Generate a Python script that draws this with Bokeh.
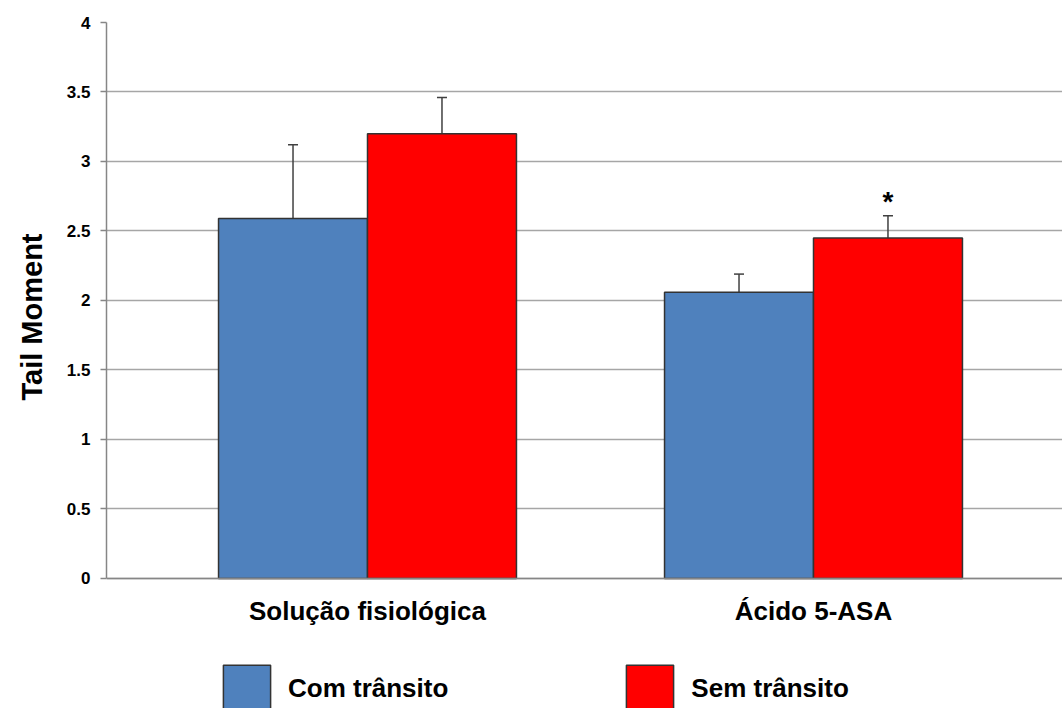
from bokeh.plotting import figure
from bokeh.models import (ColumnDataSource, Range1d, FixedTicker, Whisker, TeeHead,
                          Legend, LegendItem, Title)
from bokeh.core.properties import value
from bokeh.embed import file_html
from bokeh.resources import INLINE

# ---- data ----
categories = ["Solução fisiológica", "Ácido 5-ASA"]
series_names = ["Com trânsito", "Sem trânsito"]
com_values = [2.59, 2.06]
com_errors = [0.53, 0.13]
sem_values = [3.20, 2.45]
sem_errors = [0.26, 0.16]
significance = ["", "*"]
y_ticks = [0, 0.5, 1, 1.5, 2, 2.5, 3, 3.5, 4]
y_tick_labels = ["0", "0.5", "1", "1.5", "2", "2.5", "3", "3.5", "4"]
y_title = "Tail Moment"

colors = ["#4F81BD", "#FF0000"]
bar_w = 0.334
FONT = "Liberation Sans"

xs = list(range(len(categories)))
com_src = ColumnDataSource(dict(
    x=[x - bar_w / 2 for x in xs], top=com_values,
    upper=[v + e for v, e in zip(com_values, com_errors)]))
sem_src = ColumnDataSource(dict(
    x=[x + bar_w / 2 for x in xs], top=sem_values,
    upper=[v + e for v, e in zip(sem_values, sem_errors)],
    star=significance))

# frame reaches the bottom of the canvas; value 0 sits 130 px above it
p = figure(width=1062, height=708, output_backend="svg", toolbar_location=None,
           x_range=Range1d(-0.5852, 1.5583), y_range=Range1d(-0.9353, 4),
           min_border_left=106, min_border_right=0, min_border_top=22,
           min_border_bottom=0)
p.outline_line_color = None
p.background_fill_color = "white"
p.border_fill_color = "white"

r_com = p.vbar(x="x", top="top", width=bar_w, bottom=0, source=com_src,
               fill_color=colors[0], line_color="#333333", line_width=1.5)
r_sem = p.vbar(x="x", top="top", width=bar_w, bottom=0, source=sem_src,
               fill_color=colors[1], line_color="#333333", line_width=1.5)

for src in (com_src, sem_src):
    w = Whisker(source=src, base="x", lower="top", upper="upper",
                line_color="#404040", line_width=1.5, lower_head=None,
                upper_head=TeeHead(size=10, line_color="#404040", line_width=1.5))
    p.add_layout(w)

p.text(x="x", y="upper", text="star", source=sem_src, text_font=value(FONT),
       text_font_style="bold", text_font_size="28px", text_align="center",
       text_baseline="middle", y_offset=-14, text_color="black")

# axes
p.xgrid.visible = False
p.ygrid.grid_line_color = "#A6A6A6"
p.ygrid.grid_line_width = 1.5
p.ygrid.ticker = FixedTicker(ticks=y_ticks)

p.yaxis.bounds = (0, 4)
p.yaxis.ticker = FixedTicker(ticks=y_ticks)
p.yaxis.major_label_overrides = {t: l for t, l in zip(y_ticks, y_tick_labels)}
p.yaxis.minor_tick_line_color = None
p.yaxis.major_tick_out = 6
p.yaxis.major_tick_in = 0
p.yaxis.major_tick_line_color = "#868686"
p.yaxis.major_tick_line_width = 1.5
p.yaxis.axis_line_color = "#868686"
p.yaxis.axis_line_width = 1.5
p.yaxis.major_label_text_font = FONT
p.yaxis.major_label_text_font_style = "bold"
p.yaxis.major_label_text_font_size = "17px"
p.yaxis.major_label_text_color = "black"
p.yaxis.major_label_standoff = 10

# y-axis title, placed along the 0..4 span of the axis
p.add_layout(Title(text=y_title, align="left", offset=308, standoff=28,
                   vertical_align="top",
                   text_font=FONT, text_font_style="bold",
                   text_font_size="29px", text_color="black"), "left")

p.xaxis.fixed_location = 0
p.xaxis.ticker = FixedTicker(ticks=xs)
p.xaxis.major_label_overrides = {x: c for x, c in zip(xs, categories)}
p.xaxis.minor_tick_line_color = None
p.xaxis.major_tick_line_color = None
p.xaxis.major_tick_out = 0
p.xaxis.major_tick_in = 0
p.xaxis.axis_line_color = "#868686"
p.xaxis.axis_line_width = 1.5
p.xaxis.major_label_text_font = FONT
p.xaxis.major_label_text_font_style = "bold"
p.xaxis.major_label_text_font_size = "26px"
p.xaxis.major_label_text_color = "black"
p.xaxis.major_label_standoff = 18

legend = Legend(items=[LegendItem(label=series_names[0], renderers=[r_com]),
                       LegendItem(label=series_names[1], renderers=[r_sem])],
                orientation="horizontal", location=(111, -9),
                glyph_width=59, glyph_height=58, label_height=58,
                label_standoff=12, spacing=172, padding=0, margin=0,
                border_line_color=None, background_fill_alpha=0,
                label_text_font=FONT, label_text_font_style="bold",
                label_text_font_size="26px", label_text_color="black")
p.add_layout(legend, "center")

open("out.html", "w").write(file_html(p, INLINE))
